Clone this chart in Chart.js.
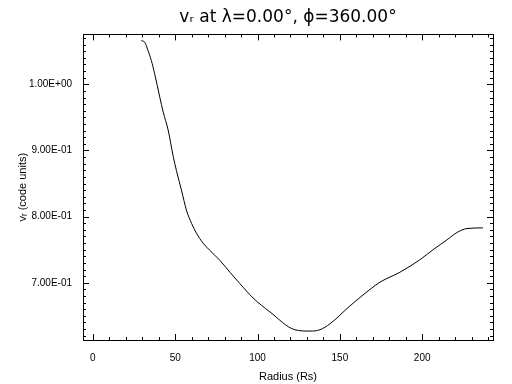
<!DOCTYPE html>
<html>
<head>
<meta charset="utf-8">
<script src="https://cdn.jsdelivr.net/npm/chart.js@4.4.0/dist/chart.umd.min.js"></script>
<style>
  html, body { margin: 0; padding: 0; background: #fff; }
  #wrap { width: 512px; height: 384px; }
</style>
</head>
<body>
<div id="wrap"><canvas id="vrChart" width="512" height="384"></canvas></div>
<script>
// Werte
const radius = [29.4, 31.4, 33.5, 35.5, 37.5, 40.6, 42.7, 45.7, 48.8, 50.7, 53.8, 56.8, 59.9, 62.9, 66.9,
  71.0, 77.1, 83.2, 89.2, 97.3, 107.5, 122.7, 131.8, 137.9, 144, 156.1, 168.3, 174.4, 186.5, 198.7,
  206.6, 215.1, 221.1, 227.2, 236.9];
const vr = [1.066, 1.064, 1.051, 1.036, 1.016, 0.981, 0.958, 0.931, 0.891, 0.870, 0.840, 0.810, 0.790, 0.775, 0.760,
  0.749, 0.734, 0.716, 0.699, 0.677, 0.656, 0.629, 0.627, 0.629, 0.638, 0.665, 0.690, 0.701, 0.716, 0.735,
  0.750, 0.765, 0.776, 0.782, 0.783];

const xTicks = [0, 50, 100, 150, 200];
const yTicks = [0.7, 0.8, 0.9, 1.0];
const yTickLabels = ["7.00E-01", "8.00E-01", "9.00E-01", "1.00E+00"];
const xMinorStep = 10;
const yMinorStep = 0.01;

const points = radius.map((r, i) => ({ x: r, y: vr[i] }));

// Rahmen + Ticks nach innen (IDL-Stil)
const frameTicks = {
  id: "frameTicks",
  afterDraw(chart) {
    const { ctx, chartArea: a, scales } = chart;
    const xs = scales.x, ys = scales.y;
    ctx.save();
    ctx.strokeStyle = "#000";
    ctx.lineWidth = 1;
    ctx.strokeRect(Math.round(a.left) + 0.5, Math.round(a.top) + 0.5,
      Math.round(a.right - a.left), Math.round(a.bottom - a.top));
    ctx.beginPath();
    const xStart = Math.ceil(xs.min / xMinorStep) * xMinorStep;
    for (let v = xStart; v <= xs.max; v += xMinorStep) {
      const px = Math.round(xs.getPixelForValue(v)) + 0.5;
      const len = (Math.abs(v % 50) < 1e-6) ? 6 : 3;
      ctx.moveTo(px, a.bottom); ctx.lineTo(px, a.bottom - len);
      ctx.moveTo(px, a.top); ctx.lineTo(px, a.top + len);
    }
    const yStart = Math.ceil(ys.min / yMinorStep);
    for (let k = yStart; k * yMinorStep <= ys.max; k++) {
      const py = Math.round(ys.getPixelForValue(k * yMinorStep)) + 0.5;
      const len = (k % 10 === 0) ? 6 : 3;
      ctx.moveTo(a.left, py); ctx.lineTo(a.left + len, py);
      ctx.moveTo(a.right, py); ctx.lineTo(a.right - len, py);
    }
    ctx.stroke();
    ctx.restore();
  }
};

new Chart(document.getElementById("vrChart"), {
  type: "line",
  data: {
    datasets: [{
      data: points,
      borderColor: "#000",
      borderWidth: 1,
      pointRadius: 0,
      cubicInterpolationMode: "monotone",
      fill: false
    }]
  },
  options: {
    responsive: false,
    animation: false,
    layout: { padding: { left: 0, right: 19, top: 0, bottom: 0 } },
    plugins: {
      legend: { display: false },
      tooltip: { enabled: false },
      title: {
        display: true,
        fullSize: false,
        text: "vᵣ at λ=0.00°, ϕ=360.00°",
        color: "#000",
        font: { family: "DejaVu Sans", size: 17, weight: "normal" },
        padding: { top: 7, bottom: 7 }
      }
    },
    scales: {
      x: {
        type: "linear",
        min: -6,
        max: 243,
        grid: { display: false },
        border: { display: false },
        afterBuildTicks: s => { s.ticks = xTicks.map(v => ({ value: v })); },
        afterFit: s => { s.height = 44; },
        ticks: {
          color: "#000",
          padding: 4,
          maxRotation: 0,
          font: { family: "Liberation Sans", size: 10 }
        },
        title: {
          display: true,
          text: "Radius (Rs)",
          color: "#000",
          font: { family: "Liberation Sans", size: 11 },
          padding: { top: 0, bottom: 0 }
        }
      },
      y: {
        type: "linear",
        min: 0.6135,
        max: 1.0755,
        grid: { display: false },
        border: { display: false },
        afterBuildTicks: s => { s.ticks = yTicks.map(v => ({ value: v })); },
        afterFit: s => { s.width = 83; },
        ticks: {
          color: "#000",
          padding: 3,
          font: { family: "Liberation Sans", size: 10 },
          callback: (v, i) => yTickLabels[i]
        },
        title: {
          display: true,
          text: "vᵣ (code units)",
          color: "#000",
          font: { family: "Liberation Sans", size: 11 },
          padding: { top: 16, bottom: 4 }
        }
      }
    }
  },
  plugins: [frameTicks]
});
</script>
</body>
</html>
